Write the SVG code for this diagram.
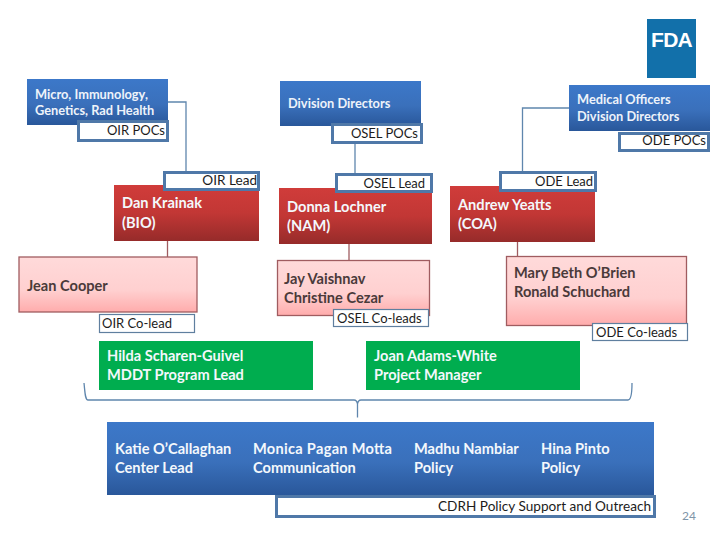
<svg xmlns="http://www.w3.org/2000/svg" width="720" height="540" viewBox="0 0 720 540">
<style>
text{font-family:Lato,"Open Sans","Liberation Sans",sans-serif}
.n{font-size:14.6px;font-weight:700;fill:#f4f8fc}
.s{font-size:12.8px;font-weight:700;fill:#eef3fa}
.p{font-size:14.6px;font-weight:700;fill:#4a3a3a}
.l{font-size:13px;fill:#1c1c1c}
.w{font-size:13.600px}
.c{fill:none;stroke:#5f86ad;stroke-width:1.3}
.r{fill:none;stroke:#a05c60;stroke-width:1.3}
.b{fill:#fff;stroke:#4f78a8;stroke-width:3}
.t{fill:#fff;stroke:#5f7f9f;stroke-width:1.2}
.bl{fill:url(#gb)}.rd{fill:url(#gr)}
.pk{fill:url(#gp);stroke:#a05c60;stroke-width:1.3}
.gn{fill:#00ad4f}
</style>
<defs>
<linearGradient id="gb" x1="0" y1="0" x2="0" y2="1"><stop offset="0" stop-color="#3c78c9"/><stop offset=".55" stop-color="#3a70bb"/><stop offset="1" stop-color="#29579a"/></linearGradient>
<linearGradient id="gr" x1="0" y1="0" x2="0" y2="1"><stop offset="0" stop-color="#d03c3a"/><stop offset=".5" stop-color="#c23735"/><stop offset="1" stop-color="#962b2a"/></linearGradient>
<linearGradient id="gp" x1="0" y1="0" x2="0" y2="1"><stop offset="0" stop-color="#ffdada"/><stop offset=".6" stop-color="#ffd0d0"/><stop offset="1" stop-color="#ffacac"/></linearGradient>
</defs>
<g id="connectors">
<path class="c" d="M168 102H186V172"/>
<path class="c" d="M355 144V174"/>
<path class="c" d="M569 108H522.500V172"/>
<path class="r" d="M167.500 241V257"/>
<path class="r" d="M349 244V261"/>
<path class="r" d="M517.500 242V257"/>
<path class="c" d="M84 383C85 392 85 400 88 400H354C356 400 357 401 357.500 404C358 401 359 400 361 400H628C631 400 632 392 632 383M357.500 404V417.500"/>
</g>
<g id="fda"><rect x="647" y="19" width="49" height="59" fill="#1270aa"/><text x="671.500" y="47" text-anchor="middle" style="font-family:'Liberation Sans',sans-serif;font-size:21px;font-weight:700;letter-spacing:-.8px" fill="#fff">FDA</text></g>
<g id="oir-pocs"><rect class="bl" x="27" y="79" width="141" height="46"/><text class="s" x="35" y="99">Micro, Immunology,</text><text class="s" x="35" y="115">Genetics, Rad Health</text><rect class="b" x="78.500" y="121.500" width="89" height="19"/><text class="l" x="165" y="135" text-anchor="end">OIR POCs</text></g>
<g id="osel-pocs"><rect class="bl" x="280" y="81" width="141" height="45"/><text class="s" x="288" y="108">Division Directors</text><rect class="b" x="332.500" y="124.500" width="89" height="18"/><text class="l" x="418" y="138" text-anchor="end">OSEL POCs</text></g>
<g id="ode-pocs"><rect class="bl" x="569" y="85" width="141" height="46"/><text class="s" x="577" y="104">Medical Officers</text><text class="s" x="577" y="121">Division Directors</text><rect class="b" x="619.500" y="133.500" width="89" height="17"/><text class="l" x="706" y="145" text-anchor="end">ODE POCs</text></g>
<g id="dan"><rect class="rd" x="114" y="185" width="145" height="56"/><text class="n" x="122" y="208">Dan Krainak</text><text class="n" x="122" y="228">(BIO)</text><rect class="b" x="164.500" y="172.500" width="94" height="17"/><text class="l w" x="257" y="185" text-anchor="end">OIR Lead</text></g>
<g id="donna"><rect class="rd" x="279" y="188" width="153" height="56"/><text class="n" x="287" y="212">Donna Lochner</text><text class="n" x="287" y="231">(NAM)</text><rect class="b" x="336.500" y="174.500" width="95" height="17"/><text class="l" x="425" y="188" text-anchor="end">OSEL Lead</text></g>
<g id="andrew"><rect class="rd" x="450" y="186" width="145" height="56"/><text class="n" x="458" y="210">Andrew Yeatts</text><text class="n" x="458" y="229">(COA)</text><rect class="b" x="500.500" y="172.500" width="95" height="18"/><text class="l" x="593" y="186" text-anchor="end">ODE Lead</text></g>
<g id="jean"><rect class="pk" x="19" y="257" width="178" height="55"/><text class="p" x="27" y="291">Jean Cooper</text><rect class="t" x="99.500" y="314.500" width="95" height="18"/><text class="l" x="102" y="328">OIR Co-lead</text></g>
<g id="jay"><rect class="pk" x="277.500" y="260.500" width="152" height="55"/><text class="p" x="284" y="284">Jay Vaishnav</text><text class="p" x="284" y="303">Christine Cezar</text><rect class="t" x="333.500" y="309.500" width="95" height="17"/><text class="l" x="337" y="323">OSEL Co-leads</text></g>
<g id="mary"><rect class="pk" x="506.500" y="256.500" width="180" height="69"/><text class="p" x="514" y="278">Mary Beth O’Brien</text><text class="p" x="514" y="297">Ronald Schuchard</text><rect class="t" x="592.500" y="323.500" width="95" height="17"/><text class="l" x="596" y="337">ODE Co-leads</text></g>
<g id="hilda"><rect class="gn" x="99" y="341" width="214" height="49"/><text class="n" x="107" y="361">Hilda Scharen-Guivel</text><text class="n" x="107" y="380">MDDT Program Lead</text></g>
<g id="joan"><rect class="gn" x="366" y="341" width="214" height="49"/><text class="n" x="374" y="361">Joan Adams-White</text><text class="n" x="374" y="380">Project Manager</text></g>
<g id="cdrh"><rect class="bl" x="107" y="422" width="547" height="73"/>
<text class="n" x="115" y="454">Katie O’Callaghan</text><text class="n" x="115" y="473">Center Lead</text>
<text class="n" x="253" y="454" textLength="139">Monica Pagan Motta</text><text class="n" x="253" y="473">Communication</text>
<text class="n" x="414" y="454">Madhu Nambiar</text><text class="n" x="414" y="473">Policy</text>
<text class="n" x="541" y="454">Hina Pinto</text><text class="n" x="541" y="473">Policy</text>
<rect class="b" x="276.500" y="496.500" width="378" height="20"/><text class="l w" x="651" y="511" text-anchor="end" textLength="213">CDRH Policy Support and Outreach</text></g>
<text x="682" y="520" style="font-size:12px" fill="#7f95a8">24</text>
</svg>
